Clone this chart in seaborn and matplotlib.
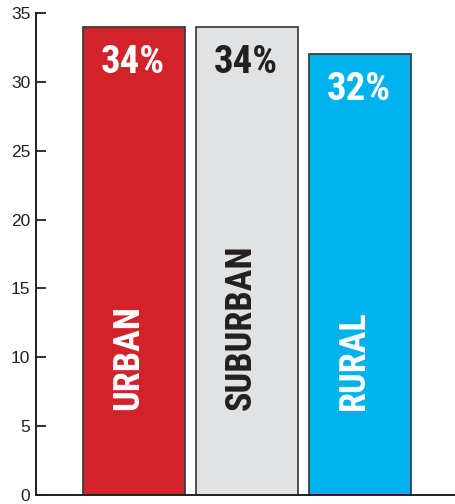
import matplotlib
matplotlib.use("Agg")
import matplotlib.pyplot as plt
import seaborn as sns
import pandas as pd

categories = ["URBAN", "SUBURBAN", "RURAL"]
values = [34, 34, 32]
pct_labels = ["34%", "34%", "32%"]
bar_colors = ["#D2232A", "#E1E2E4", "#00B2EC"]
text_colors = ["white", "#231F20", "white"]
yticks = [0, 5, 10, 15, 20, 25, 30, 35]

sns.set_style("white")
plt.rcParams["font.family"] = ["Liberation Sans", "DejaVu Sans"]

df = pd.DataFrame({"cat": categories, "val": values})

fig = plt.figure(figsize=(4.56, 5.04), dpi=100)
ax = fig.add_axes([36 / 456, 9 / 504, 420 / 456, 482 / 504])

sns.barplot(data=df, x="cat", y="val", hue="cat", palette=bar_colors,
            width=0.9, edgecolor="#333333", linewidth=1.2, legend=False,
            saturation=1, ax=ax)

ax.set_ylim(0, 35)
ax.set_xlim(-0.867, 2.85)
ax.set_yticks(yticks)
ax.set_xticks([])
ax.set_xlabel("")
ax.set_ylabel("")
ax.tick_params(axis="y", direction="in", length=7, width=1.3, labelsize=12.5,
               pad=4, colors="#231F20", left=True)
for s in ["top", "right"]:
    ax.spines[s].set_visible(False)
for s in ["left", "bottom"]:
    ax.spines[s].set_color("#231F20")
    ax.spines[s].set_linewidth(1.4)

narrow = ["Roboto Condensed", "Barlow Condensed", "Liberation Sans", "DejaVu Sans"]
for i, (v, lab, cat, tc) in enumerate(zip(values, pct_labels, categories, text_colors)):
    ax.annotate(lab, xy=(i, v), xytext=(-1, -25.5), textcoords="offset points",
                ha="center", va="center", fontsize=28, fontweight="bold",
                family=narrow, color=tc)
    ax.annotate(cat, xy=(i, 0), xytext=(-4.5, 61), textcoords="offset points",
                ha="center", va="bottom", rotation=90, fontsize=26,
                fontweight="bold", family=narrow, color=tc)

fig.savefig("out.png", dpi=100)
